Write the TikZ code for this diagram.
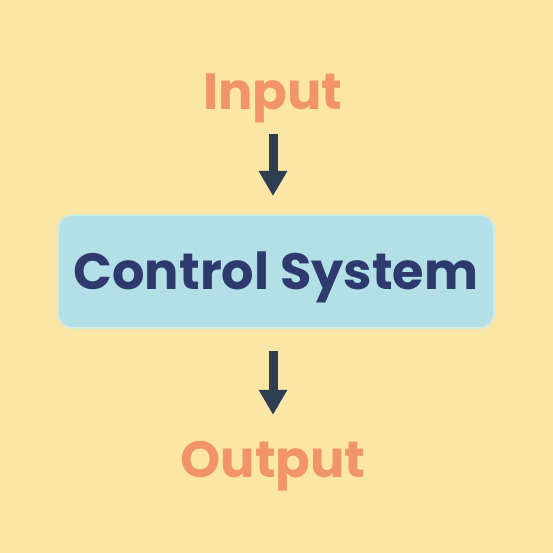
\documentclass[tikz,border=0pt]{standalone}
\usepackage{fontspec}
\setmainfont{Poppins}
\usetikzlibrary{arrows.meta}
\definecolor{bg}{HTML}{FCE6A6}
\definecolor{boxfill}{HTML}{B3DFE6}
\definecolor{boxline}{HTML}{D2EADF}
\definecolor{orng}{HTML}{F2946A}
\definecolor{navy}{HTML}{2E3A6E}
\definecolor{arr}{HTML}{2C3E50}
\tikzset{
  lbl/.style={text=orng, font=\fontsize{51}{60}\selectfont\bfseries, inner sep=0pt, text height=36pt, text depth=10pt},
  sysbox/.style={fill=boxfill, draw=boxline, line width=2pt, rounded corners=14pt, minimum width=436pt, minimum height=113pt, text=navy, font=\fontsize{51}{60}\selectfont\bfseries, inner sep=0pt, text height=36pt, text depth=0pt},
  flow/.style={draw=arr, line width=9pt, -{Triangle[width=27pt,length=25pt]}}
}
\begin{document}
\begin{tikzpicture}[x=1pt,y=-1pt]
\fill[bg] (0,0) rectangle (553,553);
\useasboundingbox (0,0) rectangle (553,553);
\node[lbl, anchor=base] (in) at (273,110) {Input};
\node[sysbox] (sys) at (276,271.5) {Control System};
\node[lbl, anchor=base] (out) at (273,477) {Output};
\draw[flow, shorten <=14pt, shorten >=18pt] (in.south) -- (sys.north -| in.south);
\draw[flow, shorten <=22pt, shorten >=26pt] (sys.south -| in.south) -- (out.north);
\end{tikzpicture}
\end{document}
